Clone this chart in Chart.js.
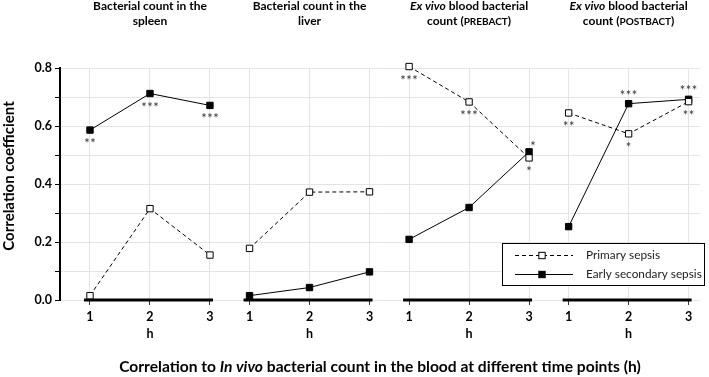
<!DOCTYPE html>
<html><head><meta charset="utf-8">
<script src="https://cdn.jsdelivr.net/npm/chart.js@4.4.1/dist/chart.umd.min.js"></script>
<style>html,body{margin:0;padding:0;background:#fff;}#wrap{position:relative;width:709px;height:377px;}</style>
</head><body><div id="wrap"><canvas id="c" width="709" height="377"></canvas></div>
<script>
// ---- data ----
const hours = ['1', '2', '3'];
const hourUnit = 'h';
const seriesNames = ['Primary sepsis', 'Early secondary sepsis'];
const primarySpleen = [0.015, 0.315, 0.155];
const secondarySpleen = [0.586, 0.712, 0.671];
const primaryLiver = [0.178, 0.372, 0.373];
const secondaryLiver = [0.015, 0.043, 0.097];
const primaryPrebact = [0.805, 0.683, 0.490];
const secondaryPrebact = [0.209, 0.319, 0.511];
const primaryPostbact = [0.645, 0.573, 0.684];
const secondaryPostbact = [0.253, 0.677, 0.692];
const primaryStars = [['', '', ''], ['', '', ''], ['***', '***', '*'], ['**', '*', '**']];
const secondaryStars = [['**', '***', '***'], ['', '', ''], ['', '', '*'], ['', '***', '***']];
const primaryStarSide = [['b', 'b', 'b'], ['b', 'b', 'b'], ['b', 'b', 'b'], ['b', 'b', 'b']];
const secondaryStarSide = [['b', 'b', 'b'], ['b', 'b', 'b'], ['a', 'a', 'ar'], ['a', 'a', 'a']];
const panelTitles = [
  [[['Bacterial count in the', 'b']], [['spleen', 'b']]],
  [[['Bacterial count in the', 'b']], [['liver', 'b']]],
  [[['Ex vivo', 'bi'], [' blood bacterial', 'b']], [['count (', 'b'], ['PREBACT', 'sc'], [')', 'b']]],
  [[['Ex vivo', 'bi'], [' blood bacterial', 'b']], [['count (', 'b'], ['POSTBACT', 'sc'], [')', 'b']]]
];
const xTitle = [['Correlation to ', 'b'], ['In vivo', 'bi'], [' bacterial count in the blood at different time points (h)', 'b']];
const yTitle = 'Correlation coefficient';

// ---- layout helpers ----
const FF = 'Lato, "Open Sans", "DejaVu Sans", sans-serif';
Chart.defaults.font.family = FF;
const P = 2.66; // panel spacing in x-units
const primaryPanels = [primarySpleen, primaryLiver, primaryPrebact, primaryPostbact];
const secondaryPanels = [secondarySpleen, secondaryLiver, secondaryPrebact, secondaryPostbact];
function buildSeries(panels) {
  const pts = [];
  panels.forEach((vals, p) => {
    vals.forEach((v, c) => pts.push({ x: p * P + c + 1, y: v }));
    pts.push({ x: p * P + 3.5, y: null });
  });
  return pts;
}
const tickVals = [];
for (let p = 0; p < 4; p++) for (let c = 0; c < 3; c++) tickVals.push(p * P + c + 1);

function fontFor(style, size) {
  return (style.includes('i') ? 'italic ' : '') + (style.includes('b') ? 'bold ' : '') + size + 'px ' + FF;
}
function drawRich(ctx, segs, cx, y, size) {
  const parts = segs.map(([t, s]) => {
    const sz = s === 'sc' ? Math.round(size * 0.8) : size;
    const f = fontFor(s === 'sc' ? 'b' : s, sz);
    ctx.font = f;
    return { t, f, w: ctx.measureText(t).width };
  });
  const total = parts.reduce((a, p) => a + p.w, 0);
  let x = cx - total / 2;
  ctx.textAlign = 'left';
  ctx.textBaseline = 'alphabetic';
  parts.forEach(p => { ctx.font = p.f; ctx.fillText(p.t, x, y); x += p.w; });
}

const decor = {
  id: 'decor',
  beforeDatasetsDraw(chart) {
    const { ctx, scales: { x: xs, y: ys } } = chart;
    ctx.save();
    ctx.strokeStyle = '#000';
    ctx.lineWidth = 3;
    const y0 = ys.getPixelForValue(0);
    for (let p = 0; p < 4; p++) {
      ctx.beginPath();
      ctx.moveTo(xs.getPixelForValue(p * P + 0.9), y0);
      ctx.lineTo(xs.getPixelForValue(p * P + 3.05), y0);
      ctx.stroke();
    }
    ctx.restore();
  },
  afterDatasetsDraw(chart) {
    const { ctx } = chart;
    ctx.save();
    ctx.fillStyle = '#333';
    ctx.font = '13px ' + FF;
    ctx.textAlign = 'center';
    ctx.textBaseline = 'alphabetic';
    [[primaryStars, primaryStarSide], [secondaryStars, secondaryStarSide]].forEach(([stars, sides], d) => {
      const meta = chart.getDatasetMeta(d);
      for (let p = 0; p < 4; p++) for (let c = 0; c < 3; c++) {
        const s = stars[p][c];
        if (!s) continue;
        const el = meta.data[p * 4 + c];
        const side = sides[p][c];
        let cx = el.x, cy = el.y + 11;
        if (side === 'a') cy = el.y - 11;
        if (side === 'ar') { cx = el.x + 4; cy = el.y - 8; }
        const n = s.length, sp = 6;
        for (let k = 0; k < n; k++) {
          ctx.fillText('*', cx + (k - (n - 1) / 2) * sp, cy + 7);
        }
      }
    });
    ctx.restore();
  },
  afterDraw(chart) {
    const { ctx, chartArea: ca, scales: { x: xs } } = chart;
    ctx.save();
    ctx.fillStyle = '#000';
    // panel titles
    panelTitles.forEach((lines, p) => {
      const cx = xs.getPixelForValue(p * P + 2);
      lines.forEach((segs, i) => drawRich(ctx, segs, cx, 10 + i * 14.5, 12));
    });
    // bottom title
    drawRich(ctx, xTitle, (ca.left + ca.right) / 2, 372, 15.6);
    // y title
    ctx.save();
    ctx.translate(14, 176);
    ctx.rotate(-Math.PI / 2);
    ctx.font = fontFor('b', 15);
    ctx.textAlign = 'center';
    ctx.textBaseline = 'alphabetic';
    ctx.fillText(yTitle, 0, 0);
    ctx.restore();
    // legend
    const bx = 502, by = 243, bw = 202, bh = 42;
    ctx.fillStyle = '#fff';
    ctx.fillRect(bx, by, bw, bh);
    ctx.strokeStyle = '#000';
    ctx.lineWidth = 1;
    ctx.strokeRect(bx + 0.5, by + 0.5, bw, bh);
    chart.data.datasets.forEach((ds, i) => {
      const ly = by + 12.5 + i * 19;
      ctx.save();
      ctx.strokeStyle = ds.borderColor;
      ctx.lineWidth = ds.borderWidth;
      ctx.setLineDash(ds.borderDash || []);
      ctx.beginPath();
      ctx.moveTo(bx + 13, ly); ctx.lineTo(bx + 71, ly);
      ctx.stroke();
      ctx.restore();
      ctx.fillStyle = ds.pointBackgroundColor;
      ctx.strokeStyle = ds.pointBorderColor;
      ctx.lineWidth = ds.pointBorderWidth;
      const r = ds.pointRadius * Math.SQRT1_2;
      ctx.fillRect(bx + 40 - r, ly - r, 2 * r, 2 * r);
      ctx.strokeRect(bx + 40 - r, ly - r, 2 * r, 2 * r);
      ctx.fillStyle = '#222';
      ctx.font = '11.8px ' + FF;
      ctx.textAlign = 'left';
      ctx.textBaseline = 'middle';
      ctx.fillText(ds.label, bx + 84, ly);
    });
    ctx.restore();
  }
};

const common = { borderColor: '#000', borderWidth: 1, pointStyle: 'rect', pointRadius: 4.5, pointHoverRadius: 4.5,
  pointBorderColor: '#000', pointBorderWidth: 1, spanGaps: false, clip: false, tension: 0 };

new Chart(document.getElementById('c'), {
  type: 'line',
  data: {
    datasets: [
      Object.assign({ label: seriesNames[0], data: buildSeries(primaryPanels), borderDash: [4, 3], pointBackgroundColor: '#fff' }, common),
      Object.assign({ label: seriesNames[1], data: buildSeries(secondaryPanels), borderDash: [], pointBackgroundColor: '#000' }, common)
    ]
  },
  options: {
    responsive: false, animation: false, devicePixelRatio: 1,
    layout: { padding: { top: 68, right: 9, left: 0, bottom: 0 } },
    plugins: { legend: { display: false }, tooltip: { enabled: false } },
    scales: {
      x: {
        type: 'linear', min: 0.5, max: 11.17,
        afterBuildTicks: s => { s.ticks = tickVals.map(v => ({ value: v })); },
        afterFit: s => { s.height = 77; },
        ticks: {
          autoSkip: false, maxRotation: 0, padding: 4, color: '#000',
          font: { weight: 'bold', size: 12.5, lineHeight: 1.35 },
          callback: (v, i) => (i % 3 === 1 ? [hours[1], hourUnit] : hours[i % 3])
        },
        grid: { color: '#e4e4e4', tickColor: '#333', tickLength: 5, lineWidth: 1 },
        border: { display: false }
      },
      y: {
        min: 0, max: 0.8,
        afterFit: s => { s.width = 60; },
        ticks: {
          stepSize: 0.1, padding: 3, color: '#000',
          font: { weight: 'bold', size: 12.5 },
          callback: v => (Math.round(v * 10) % 2 === 0 ? v.toFixed(1) : '')
        },
        grid: { color: '#e4e4e4', tickColor: '#000', tickLength: 5 },
        border: { color: '#000', width: 2 }
      }
    }
  },
  plugins: [decor]
});
</script></body></html>
